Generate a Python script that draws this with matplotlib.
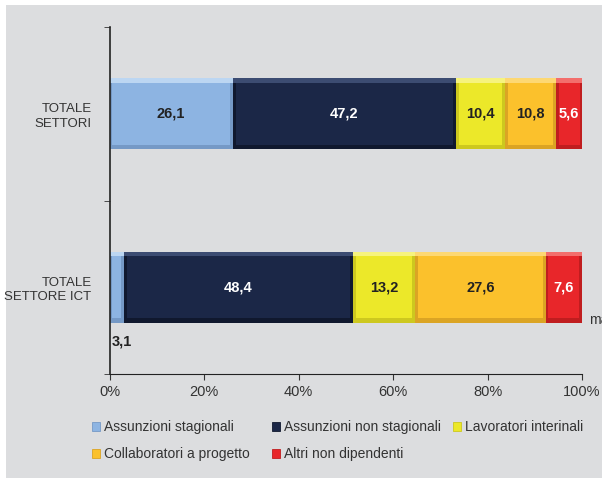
import matplotlib
matplotlib.use("Agg")
import matplotlib.pyplot as plt
from matplotlib.patches import Rectangle
import numpy as np

plt.rcParams['font.family'] = ['Liberation Sans', 'DejaVu Sans']

categories = ["TOTALE\nSETTORE ICT", "TOTALE\nSETTORI"]
series = ["Assunzioni stagionali", "Assunzioni non stagionali", "Lavoratori interinali",
          "Collaboratori a progetto", "Altri non dipendenti"]
values = {
    "Assunzioni stagionali": [3.1, 26.1],
    "Assunzioni non stagionali": [48.4, 47.2],
    "Lavoratori interinali": [13.2, 10.4],
    "Collaboratori a progetto": [27.6, 10.8],
    "Altri non dipendenti": [7.6, 5.6],
}
faces = ["#8db4e2", "#1b2747", "#ece829", "#fbc12c", "#e8262a"]
tops = ["#bcd6f2", "#3c4c72", "#f6f37e", "#fdd873", "#f36e6c"]
sides = ["#7599c6", "#10182e", "#cdc81f", "#dba424", "#c01d1f"]
text_colors = ["#222222", "white", "#222222", "#222222", "white"]
bg = "#dcdddf"

fig = plt.figure(figsize=(6.02, 4.78), dpi=100, facecolor="white")
fig.patches.append(Rectangle((6 / 602, 0), 1, 1 - 5 / 478, transform=fig.transFigure,
                             facecolor=bg, edgecolor="none", zorder=-1))
ax = fig.add_axes([109.5 / 602, 1 - 374 / 478, 472.5 / 602, 347 / 478])
ax.set_facecolor(bg)

y = np.arange(len(categories))
left = np.zeros(len(categories))
h = 0.41
bx = 0.6    # bevel width in % units
by = 0.025  # bevel height in data units
for i, s in enumerate(series):
    v = np.array(values[s])
    # bevelled bar: darker sides, light top edge, flat face
    ax.barh(y, v, left=left, height=h, color=sides[i], linewidth=0)
    ax.barh(y + h / 2 - by / 2, v, left=left, height=by, color=tops[i], linewidth=0)
    ax.barh(y, v - 2 * bx, left=left + bx, height=h - 2 * by, color=faces[i], linewidth=0)
    for j in range(len(categories)):
        lab = f"{v[j]:.1f}".replace(".", ",")
        if v[j] < 4:
            ax.text(left[j] + 0.5, y[j] - h / 2 - 0.105, lab, ha="left", va="center",
                    fontsize=10.5, fontweight="bold", color="#222222")
        else:
            ax.text(left[j] + v[j] / 2, y[j], lab, ha="center", va="center",
                    fontsize=10.5, fontweight="bold", color=text_colors[i])
    left = left + v

ax.set_xlim(0, 100)
ax.set_ylim(-0.5, 1.5)
ax.set_xticks(np.arange(0, 101, 20))
ax.set_xticklabels([f"{t}%" for t in range(0, 101, 20)], fontsize=10.5, color="#333333")
ax.set_yticks(y)
ax.set_yticklabels(categories, fontsize=9.5, color="#333333", linespacing=1.3)
ax.set_yticks([-0.5, 0.5, 1.5], minor=True)
ax.tick_params(axis="y", which="major", length=0, pad=13)
ax.tick_params(axis="y", which="minor", length=4, color="#333333")
ax.tick_params(axis="x", length=4, color="#333333", pad=4)
for sp in ["top", "right"]:
    ax.spines[sp].set_visible(False)
ax.spines["left"].set_color("#222222")
ax.spines["bottom"].set_color("#222222")
ax.spines["left"].set_linewidth(1.2)

# truncated note at the right edge, as in the original
fig.text(589 / 602, 1 - 320 / 478, "ma", fontsize=10, color="#333333", va="center")

# legend: three columns placed like the reference
handles = [Rectangle((0, 0), 1, 1, facecolor=faces[i], edgecolor=sides[i], linewidth=0.6)
           for i in range(len(series))]
columns = [[0, 3], [1, 4], [2]]
col_x = [92, 272, 453]
for cx, idx in zip(col_x, columns):
    fig.legend([handles[k] for k in idx], [series[k] for k in idx], loc="upper left",
               bbox_to_anchor=(cx / 602, 1 - 420 / 478), frameon=False, fontsize=10,
               handlelength=0.6, handleheight=0.6, handletextpad=0.25,
               labelspacing=0.95, borderpad=0, borderaxespad=0, labelcolor="#333333")

fig.savefig("out.png", dpi=100, facecolor="white")
